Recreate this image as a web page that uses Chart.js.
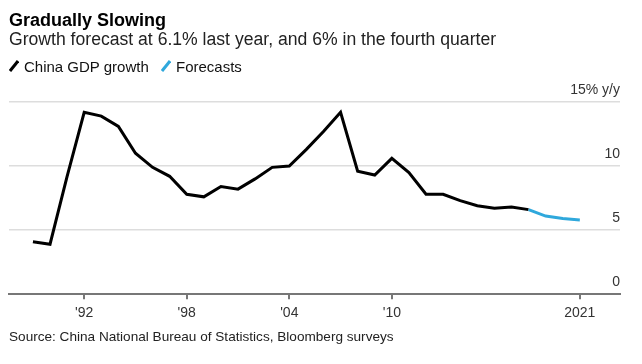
<!DOCTYPE html>
<html>
<head>
<meta charset="utf-8">
<script src="https://cdn.jsdelivr.net/npm/chart.js@4"></script>
<style>
  html, body { margin: 0; padding: 0; background: #fff; }
  body { width: 642px; height: 364px; position: relative; overflow: hidden; font-family: "Liberation Sans", Arial, sans-serif; }
  #wrap { position: absolute; left: 0; top: 0; width: 642px; height: 364px; }
  .txt { position: absolute; left: 9px; white-space: nowrap; color: #000; line-height: 1; }
  #title { top: 11px; font-size: 18px; font-weight: bold; }
  #subtitle { top: 31px; font-size: 17.6px; color: #222; }
  #legend { top: 57px; font-size: 15px; color: #111; }
  #legend span { display: inline-block; vertical-align: middle; }
  #legend svg { vertical-align: middle; margin-right: 5px; }
  #source { top: 330px; font-size: 13.6px; color: #222; }
</style>
</head>
<body>
<div id="wrap"><canvas id="gdpChart" width="642" height="364"></canvas></div>
<div class="txt" id="title">Gradually Slowing</div>
<div class="txt" id="subtitle">Growth forecast at 6.1% last year, and 6% in the fourth quarter</div>
<div class="txt" id="legend">
  <svg width="10" height="12"><line x1="1" y1="11" x2="9" y2="1" stroke="#000" stroke-width="3"/></svg><span>China GDP growth</span>
  <svg width="10" height="12" style="margin-left:8px"><line x1="1" y1="11" x2="9" y2="1" stroke="#2fa8dc" stroke-width="3"/></svg><span>Forecasts</span>
</div>
<div class="txt" id="source">Source: China National Bureau of Statistics, Bloomberg surveys</div>

<script>
// 数据
const gdpYears = [1989, 1990, 1991, 1992, 1993, 1994, 1995, 1996, 1997, 1998, 1999, 2000, 2001, 2002, 2003,
                  2004, 2005, 2006, 2007, 2008, 2009, 2010, 2011, 2012, 2013, 2014, 2015, 2016, 2017, 2018];
const gdpGrowth = [4.1, 3.9, 9.2, 14.2, 13.9, 13.1, 11.0, 9.9, 9.2, 7.8, 7.6, 8.4, 8.2, 9.0, 9.9,
                   10.0, 11.3, 12.7, 14.2, 9.6, 9.3, 10.6, 9.5, 7.8, 7.8, 7.3, 6.9, 6.7, 6.8, 6.6];
const forecastYears = [2018, 2019, 2020, 2021];
const forecastGrowth = [6.6, 6.1, 5.9, 5.8];
const xTickYears = [1992, 1998, 2004, 2010, 2021];
const yTickValues = [0, 5, 10, 15];

function toPoints(xs, ys) {
    return xs.map((x, i) => ({ x: x, y: ys[i] }));
}

const FONT = '"Liberation Sans", Arial, sans-serif';

new Chart(document.getElementById('gdpChart'), {
    type: 'line',
    data: {
        datasets: [
            { label: 'Forecasts', data: toPoints(forecastYears, forecastGrowth), borderColor: '#2fa8dc', borderWidth: 3, pointRadius: 0, tension: 0 },
            { label: 'China GDP growth', data: toPoints(gdpYears, gdpGrowth), borderColor: '#000', borderWidth: 3, pointRadius: 0, tension: 0 }
        ]
    },
    options: {
        responsive: false,
        animation: false,
        layout: { padding: { left: 9, right: 22, top: 102, bottom: 36 } },
        plugins: { legend: { display: false }, tooltip: { enabled: false } },
        scales: {
            x: {
                type: 'linear',
                min: 1987.6,
                max: 2023.35,
                afterBuildTicks: axis => { axis.ticks = xTickYears.map(v => ({ value: v })); },
                ticks: {
                    color: '#333',
                    font: { family: FONT, size: 14 },
                    padding: 6,
                    maxRotation: 0,
                    callback: v => v === 2021 ? '2021' : "'" + String(v).slice(2)
                },
                grid: { drawOnChartArea: false, drawTicks: true, tickLength: 5, color: '#777', lineWidth: 2 },
                border: { display: true, color: '#777', width: 2 }
            },
            y: {
                position: 'right',
                min: 0,
                max: 15,
                afterBuildTicks: axis => { axis.ticks = yTickValues.map(v => ({ value: v })); },
                ticks: {
                    mirror: true,
                    padding: 0,
                    labelOffset: -12,
                    color: '#333',
                    font: { family: FONT, size: 14 },
                    callback: v => v === 15 ? '15% y/y' : String(v)
                },
                grid: { color: '#dddddd', lineWidth: 1.5, drawTicks: false },
                border: { display: false }
            }
        }
    }
});
</script>
</body>
</html>
